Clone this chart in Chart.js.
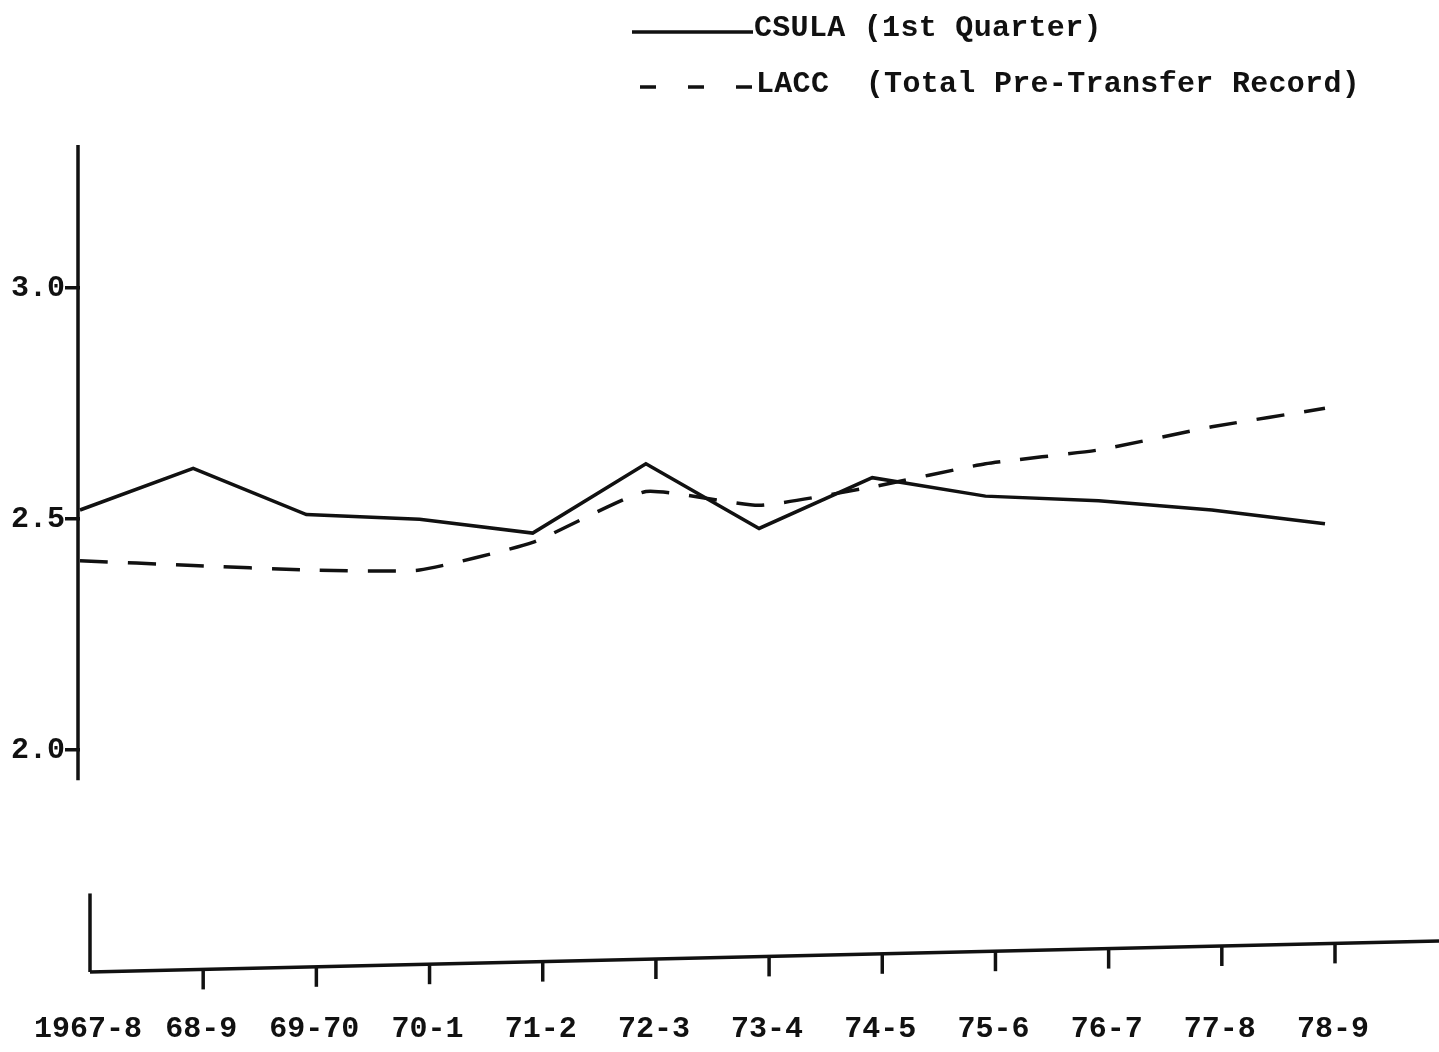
<!DOCTYPE html>
<html>
<head>
<meta charset="utf-8">
<script src="https://cdn.jsdelivr.net/npm/chart.js@4/dist/chart.umd.min.js"></script>
<style>
  html, body { margin: 0; padding: 0; background: #fff; }
  #wrap { position: relative; width: 1439px; height: 1052px; overflow: hidden; background: #fff; }
  canvas { position: absolute; left: 0; top: 0; }
  .lg { position: absolute; font-family: "Liberation Mono", "DejaVu Sans Mono", monospace; font-weight: bold;
        font-size: 30px; line-height: 30px; color: #111; white-space: pre; letter-spacing: 0.3px; }
</style>
</head>
<body>
<div id="wrap">
  <canvas id="c" width="1439" height="1052"></canvas>
  <svg style="position:absolute;left:0;top:0" width="1439" height="110">
    <line x1="632" y1="32" x2="753" y2="32" stroke="#111" stroke-width="3.5"/>
    <line x1="640" y1="87" x2="753" y2="87" stroke="#111" stroke-width="3.5" stroke-dasharray="16 32"/>
  </svg>
  <div class="lg" style="left:754px;top:13px;">CSULA (1st Quarter)</div>
  <div class="lg" style="left:756px;top:69px;">LACC  (Total Pre-Transfer Record)</div>
</div>
<script>
const categories = ['1967-8','68-9','69-70','70-1','71-2','72-3','73-4','74-5','75-6','76-7','77-8','78-9'];
const csulaValues = [2.52, 2.61, 2.51, 2.50, 2.47, 2.62, 2.48, 2.59, 2.55, 2.54, 2.52, 2.49];
const laccValues  = [2.41, 2.40, 2.39, 2.39, 2.45, 2.56, 2.53, 2.57, 2.62, 2.65, 2.70, 2.74];
const yTickValues = [2.0, 2.5, 3.0];
const yMin = 1.52, yMax = 3.31;
const yBreakUpper = 1.935, yBreakLower = 1.69;

const axisPlugin = {
  id: 'axisPlugin',
  afterDraw(chart) {
    const ctx = chart.ctx, ca = chart.chartArea;
    const ys = chart.scales.y, xs = chart.scales.x;
    ctx.save();
    ctx.strokeStyle = '#111';
    ctx.lineCap = 'butt';
    ctx.lineWidth = 3.5;
    // upper y axis
    ctx.beginPath();
    ctx.moveTo(ca.left - 2, ys.getPixelForValue(yMax));
    ctx.lineTo(ca.left - 2, ys.getPixelForValue(yBreakUpper));
    ctx.stroke();
    // lower y axis segment
    const lx = ca.left + 10;
    ctx.beginPath();
    ctx.moveTo(lx, ys.getPixelForValue(yBreakLower));
    ctx.lineTo(lx, ys.getPixelForValue(yMin));
    ctx.stroke();
    // slightly tilted x axis (as in the scanned original)
    const slope = -31 / 1349;
    const y0 = ys.getPixelForValue(yMin);
    const axY = (x) => y0 + slope * (x - lx);
    ctx.beginPath();
    ctx.moveTo(lx, y0);
    ctx.lineTo(chart.width, axY(chart.width));
    ctx.stroke();
    // tick marks hanging below the axis
    for (let i = 1; i < categories.length; i++) {
      const x = xs.getPixelForValue(i) + 10;
      ctx.beginPath();
      ctx.moveTo(x, axY(x));
      ctx.lineTo(x, axY(x) + 20);
      ctx.stroke();
    }
    ctx.restore();
  }
};

new Chart(document.getElementById('c'), {
  type: 'line',
  data: {
    labels: categories,
    datasets: [
      { label: 'CSULA (1st Quarter)', data: csulaValues, borderColor: '#111', borderWidth: 3.5,
        pointRadius: 0, tension: 0, fill: false },
      { label: 'LACC (Total Pre-Transfer Record)', data: laccValues, borderColor: '#111', borderWidth: 3.5,
        borderDash: [28, 20], pointRadius: 0, tension: 0.15, fill: false }
    ]
  },
  options: {
    responsive: false,
    animation: false,
    layout: { padding: { top: 145, right: 114, bottom: 4, left: 6 } },
    plugins: { legend: { display: false }, tooltip: { enabled: false } },
    scales: {
      x: {
        offset: false,
        grid: { display: false, drawTicks: false },
        border: { display: false },
        afterFit(scale) { scale.height = 76; scale.paddingLeft = 0; scale.paddingRight = 0; },
        ticks: {
          color: '#111', autoSkip: false, maxRotation: 0, padding: 39, labelOffset: 8,
          font: { family: '"Liberation Mono", monospace', weight: 'bold', size: 30 }
        }
      },
      y: {
        min: yMin, max: yMax,
        afterBuildTicks(scale) { scale.ticks = yTickValues.map(v => ({ value: v })); },
        afterFit(scale) { scale.width = 74; },
        grid: { drawOnChartArea: false, drawTicks: true, tickLength: 15, lineWidth: 3.5, color: '#111' },
        border: { display: false },
        ticks: {
          color: '#111', padding: 0,
          font: { family: '"Liberation Mono", monospace', weight: 'bold', size: 30 },
          callback: (v) => Number(v).toFixed(1)
        }
      }
    }
  },
  plugins: [axisPlugin]
});
</script>
</body>
</html>
